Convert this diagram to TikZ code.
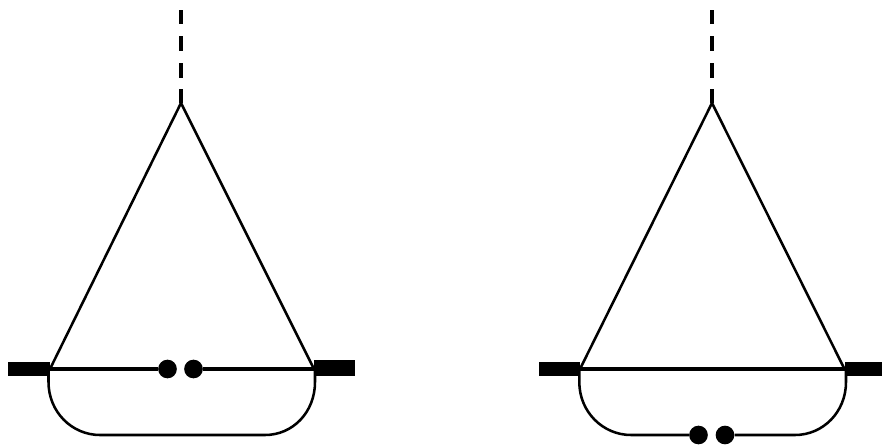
\documentclass[tikz,border=0pt]{standalone}
\begin{document}
\begin{tikzpicture}[x=0.75pt,y=-0.75pt,
  thin line/.style={line width=1.9pt,black},
  mid line/.style={line width=2.9pt,black},
  dash line/.style={line width=3pt,black},
  bar/.style={fill=black,draw=none},
  dot/.style={circle,fill=black,inner sep=0pt,minimum size=14pt}]
\useasboundingbox (0,0) rectangle (882,447);
% left diagram
\coordinate (La) at (181,103);
\coordinate (Ll) at (50,369);
\coordinate (Lr) at (314,369);
\fill[bar] (8,362) rectangle (49.5,376);
\fill[bar] (314,360) rectangle (355,376);
\foreach \a/\b in {10/24,36/51,63/78,89/103}
  \draw[dash line] (181,\a) -- (181,\b);
\draw[thin line,line join=round] (Ll) -- (La) -- (Lr);
\node[dot] (Ld1) at (167.5,369) {};
\node[dot] (Ld2) at (193.5,369) {};
\draw[mid line] (Ll) -- (Ld1);
\draw[mid line] (Ld2) -- (Lr);
\draw[thin line] (48.5,369) -- (48.5,382) .. controls (48.5,412) and (72,435) .. (100,435)
  -- (265,435) .. controls (293,435) and (315,412) .. (315,382) -- (315,369);
% right diagram
\coordinate (Ra) at (712,103);
\coordinate (Rl) at (580,369);
\coordinate (Rr) at (844.5,369);
\fill[bar] (539,362) rectangle (580,376);
\fill[bar] (844.5,362) rectangle (882,376);
\foreach \a/\b in {10/24,36/51,63/78,89/103}
  \draw[dash line] (712,\a) -- (712,\b);
\draw[thin line,line join=round] (Rl) -- (Ra) -- (Rr);
\draw[mid line] (Rl) -- (Rr);
\node[dot] (Rd1) at (698.5,435) {};
\node[dot] (Rd2) at (725,435) {};
\draw[thin line] (579.3,369) -- (579.3,382) .. controls (579.3,412) and (603,435) .. (631,435)
  -- (Rd1);
\draw[thin line] (Rd2) -- (795,435) .. controls (823,435) and (846,412) .. (846,382) -- (846,369);
\end{tikzpicture}
\end{document}
